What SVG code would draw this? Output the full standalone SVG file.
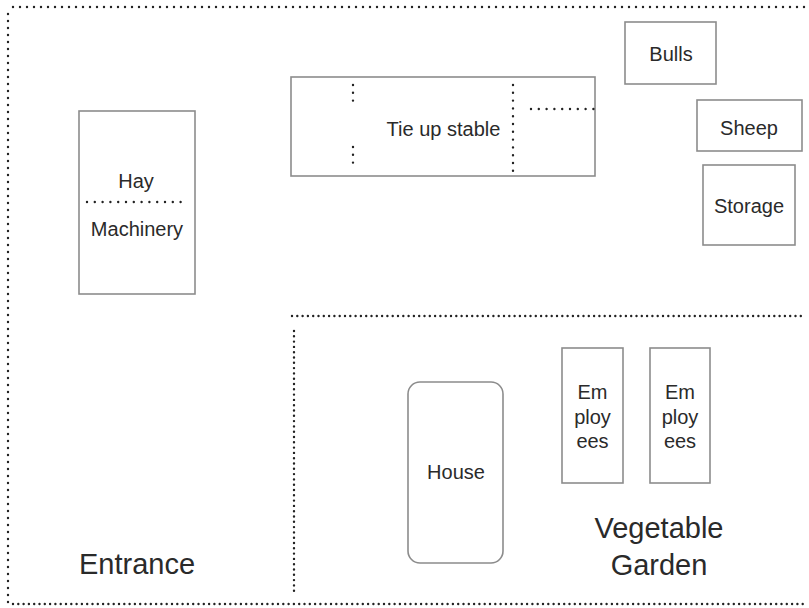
<svg xmlns="http://www.w3.org/2000/svg" width="809" height="608" viewBox="0 0 809 608">
<style>
.box{fill:#fff;stroke:#8c8c8c;stroke-width:1.6}
.dot{fill:none;stroke:#222;stroke-width:2.4;stroke-linecap:round;stroke-dasharray:0 5.3}
.d8{stroke-dasharray:0 7.8}
.d7{stroke-dasharray:0 7}
.t{font-family:"Liberation Sans",Arial,sans-serif;font-size:20px;fill:#2a2a2a;text-anchor:middle}
.big{font-size:29px}
</style>
<rect width="809" height="608" fill="#fff"/>
<g id="boundaries">
<path class="dot d7" d="M13 7 H806"/>
<path class="dot d7" d="M8 14 V604"/>
<path class="dot" d="M13 604 H806"/>
<path class="dot" d="M292 316 H806"/>
<path class="dot" d="M294 331 V596"/>
</g>
<g id="tie-up-stable">
<rect class="box" x="291" y="77" width="304" height="99"/>
<path class="dot d8" d="M353 85 V101"/>
<path class="dot d8" d="M353 147 V163"/>
<path class="dot d8" d="M513 85 V172"/>
<path class="dot d8" d="M531 109 H594"/>
<text class="t" x="443.5" y="136">Tie up stable</text>
</g>
<g id="hay-machinery">
<rect class="box" x="79" y="111" width="116" height="183"/>
<path class="dot d8" d="M87 202 H182"/>
<text class="t" x="136" y="188">Hay</text>
<text class="t" x="137" y="236">Machinery</text>
</g>
<g id="bulls">
<rect class="box" x="625" y="22" width="91" height="62"/>
<text class="t" x="671" y="61">Bulls</text>
</g>
<g id="sheep">
<rect class="box" x="697" y="100" width="105" height="51"/>
<text class="t" x="749" y="135">Sheep</text>
</g>
<g id="storage">
<rect class="box" x="703" y="165" width="92" height="80"/>
<text class="t" x="749" y="213">Storage</text>
</g>
<g id="house">
<rect class="box" x="408" y="382" width="95" height="181" rx="12" ry="12"/>
<text class="t" x="456" y="479">House</text>
</g>
<g id="employees-1">
<rect class="box" x="562" y="348" width="61" height="135"/>
<text class="t" x="592.5" y="399">Em</text>
<text class="t" x="592.5" y="424">ploy</text>
<text class="t" x="592.5" y="448">ees</text>
</g>
<g id="employees-2">
<rect class="box" x="650" y="348" width="60" height="135"/>
<text class="t" x="680" y="399">Em</text>
<text class="t" x="680" y="424">ploy</text>
<text class="t" x="680" y="448">ees</text>
</g>
<g id="vegetable-garden">
<text class="t big" x="659" y="538">Vegetable</text>
<text class="t big" x="659" y="575">Garden</text>
</g>
<g id="entrance">
<text class="t big" x="137" y="574">Entrance</text>
</g>
</svg>
